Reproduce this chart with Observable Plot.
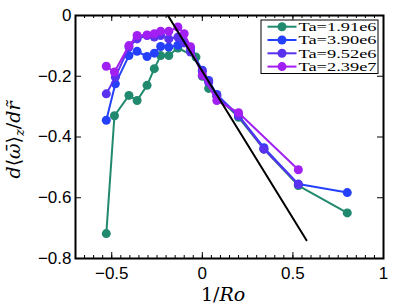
<!DOCTYPE html>
<html>
<head>
<meta charset="utf-8">
<script src="https://cdn.jsdelivr.net/npm/d3@7"></script>
<script src="https://cdn.jsdelivr.net/npm/@observablehq/plot@0.6"></script>
<style>
  html, body { margin: 0; padding: 0; background: #fff; }
</style>
</head>
<body>
<div id="chart"></div>
<script>
// ---- data ----
const seriesNames = ["Ta=1.91e6", "Ta=3.90e6", "Ta=9.52e6", "Ta=2.39e7"];
const seriesColors = ["#21896e", "#2440fb", "#5a31ef", "#a21ff2"];

const xTa1 = [-0.53, -0.485, -0.405, -0.36, -0.305, -0.265, -0.23, -0.185, -0.135, -0.035, 0.0, 0.035, 0.08, 0.2, 0.34, 0.53, 0.8];
const yTa1 = [-0.718, -0.33, -0.263, -0.28, -0.23, -0.175, -0.132, -0.132, -0.107, -0.137, -0.2, -0.24, -0.265, -0.335, -0.44, -0.56, -0.65];

const xTa2 = [-0.53, -0.48, -0.405, -0.36, -0.305, -0.265, -0.23, -0.185, -0.135, -0.10, -0.065, 0.0, 0.035, 0.08, 0.2, 0.34, 0.53, 0.8];
const yTa2 = [-0.345, -0.225, -0.132, -0.118, -0.135, -0.124, -0.102, -0.104, -0.098, -0.09, -0.11, -0.18, -0.214, -0.26, -0.33, -0.435, -0.555, -0.583];

const xTa3 = [-0.53, -0.48, -0.405, -0.36, -0.305, -0.265, -0.23, -0.185, -0.135, -0.10, -0.065, 0.0, 0.035, 0.08, 0.2, 0.34, 0.53];
const yTa3 = [-0.258, -0.203, -0.104, -0.077, -0.066, -0.071, -0.066, -0.077, -0.071, -0.09, -0.12, -0.185, -0.22, -0.265, -0.33, -0.44, -0.556];

const xTa4 = [-0.53, -0.485, -0.405, -0.36, -0.305, -0.265, -0.23, -0.185, -0.135, -0.10, -0.065, 0.0, 0.08, 0.2, 0.53];
const yTa4 = [-0.167, -0.186, -0.099, -0.066, -0.064, -0.06, -0.052, -0.052, -0.038, -0.06, -0.103, -0.197, -0.28, -0.32, -0.508];

const refLineX = [-0.19, 0.575];
const refLineY = [0, -0.74];

const xTicks = [-0.5, 0, 0.5, 1];
const xTickLabels = ["\u22120.5", "0", "0.5", "1"];
const yTicks = [0, -0.2, -0.4, -0.6, -0.8];
const yTickLabels = ["0", "\u22120.2", "\u22120.4", "\u22120.6", "\u22120.8"];

// ---- build table ----
const xs = [xTa1, xTa2, xTa3, xTa4];
const ys = [yTa1, yTa2, yTa3, yTa4];
const rows = [];
seriesNames.forEach((name, i) => {
  xs[i].forEach((x, j) => rows.push({series: name, x, y: ys[i][j]}));
});
const refLine = refLineX.map((x, i) => ({x, y: refLineY[i]}));
const xMinor = d3.range(-0.7, 1.0001, 0.05).map(v => Math.round(v * 100) / 100);

const W = 407, H = 306;
const mL = 75, mR = 24, mT = 15, mB = 48;
const xDom = [-0.7, 1], yDom = [-0.8, 0];
const pxY = (yDom[1] - yDom[0]) / (H - mT - mB);
const pxX = (xDom[1] - xDom[0]) / (W - mL - mR);

const marks = [
  Plot.ruleX(xTicks, {x: d => d, y1: yDom[0], y2: yDom[0] + 6 * pxY, stroke: "black", strokeWidth: 1}),
  Plot.ruleX(xTicks, {x: d => d, y1: yDom[1], y2: yDom[1] - 6 * pxY, stroke: "black", strokeWidth: 1}),
  Plot.ruleX(xMinor, {x: d => d, y1: yDom[0], y2: yDom[0] + 3 * pxY, stroke: "black", strokeWidth: 1}),
  Plot.ruleX(xMinor, {x: d => d, y1: yDom[1], y2: yDom[1] - 3 * pxY, stroke: "black", strokeWidth: 1}),
  Plot.ruleY(yTicks, {y: d => d, x1: xDom[0], x2: xDom[0] + 6 * pxX, stroke: "black", strokeWidth: 1}),
  Plot.ruleY(yTicks, {y: d => d, x1: xDom[1], x2: xDom[1] - 6 * pxX, stroke: "black", strokeWidth: 1}),
  Plot.axisX({ticks: xTicks, tickSize: 0, tickPadding: 8, fontSize: 17, tickFormat: d => xTickLabels[xTicks.indexOf(d)], label: null}),
  Plot.axisY({ticks: yTicks, tickSize: 0, tickPadding: 4, fontSize: 17, tickFormat: d => yTickLabels[yTicks.indexOf(d)], label: null}),
];
seriesNames.forEach((name, i) => {
  const data = rows.filter(r => r.series === name);
  marks.push(Plot.line(data, {x: "x", y: "y", stroke: seriesColors[i], strokeWidth: 2}));
  marks.push(Plot.dot(data, {x: "x", y: "y", fill: seriesColors[i], r: 4.5}));
});
marks.push(Plot.line(refLine, {x: "x", y: "y", stroke: "black", strokeWidth: 2}));
marks.push(Plot.frame({stroke: "black", strokeWidth: 2}));

const plot = Plot.plot({
  width: W, height: H,
  marginLeft: mL, marginRight: mR, marginTop: mT, marginBottom: mB,
  x: {domain: xDom},
  y: {domain: yDom},
  style: {fontFamily: "Liberation Sans, Arial, sans-serif", fontSize: "17px", color: "black", background: "white", overflow: "visible"},
  marks
});

const svg = d3.select(plot);

// legend
const lg = svg.append("g").attr("text-anchor", "start");
lg.append("rect").attr("x", 261).attr("y", 20).attr("width", 117).attr("height", 53.5)
  .attr("fill", "white").attr("stroke", "black").attr("stroke-width", 1);
seriesNames.forEach((name, i) => {
  const cy = 26.7 + 13.3 * i;
  lg.append("line").attr("x1", 267.5).attr("x2", 296.5).attr("y1", cy).attr("y2", cy)
    .attr("stroke", seriesColors[i]).attr("stroke-width", 2);
  lg.append("circle").attr("cx", 282).attr("cy", cy).attr("r", 4.5).attr("fill", seriesColors[i]);
  lg.append("text").attr("x", 298.5).attr("y", cy + 4.2).attr("text-anchor", "start").text(name)
    .attr("font-family", "Liberation Serif, serif").attr("font-size", 11.5)
    .attr("textLength", 78).attr("lengthAdjust", "spacingAndGlyphs").attr("fill", "black");
});

// x label
const xl = svg.append("text").attr("x", 223).attr("y", 301).attr("text-anchor", "middle")
  .attr("font-family", "DejaVu Serif, serif").attr("font-size", 19);
xl.append("tspan").text("1/");
xl.append("tspan").attr("font-style", "italic").text("Ro");

// y label
const yl = svg.append("text").attr("transform", "translate(20,140) rotate(-90)").attr("text-anchor", "middle")
  .attr("font-family", "DejaVu Serif, serif").attr("font-size", 19);
yl.append("tspan").attr("font-style", "italic").text("d");
yl.append("tspan").text("\u27E8");
yl.append("tspan").attr("font-style", "italic").text("\u03C9\u0304");
yl.append("tspan").text("\u27E9");
yl.append("tspan").attr("font-style", "italic").attr("font-size", 13).attr("dy", 4).text("z");
yl.append("tspan").attr("dy", -4).text("/");
yl.append("tspan").attr("font-style", "italic").text("d");
yl.append("tspan").attr("font-style", "italic").text("r\u0303");

document.getElementById("chart").appendChild(plot);
</script>
</body>
</html>
